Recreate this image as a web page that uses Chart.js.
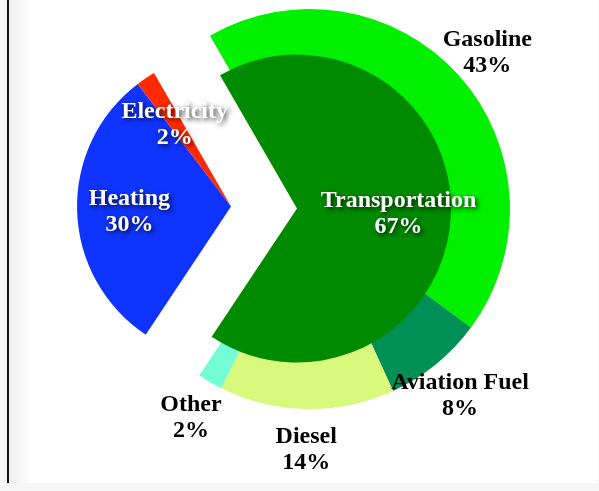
<!DOCTYPE html>
<html>
<head>
<meta charset="utf-8">
<script src="https://cdn.jsdelivr.net/npm/chart.js@4.4.1/dist/chart.umd.min.js"></script>
<style>
  html, body { margin: 0; padding: 0; }
  body { width: 599px; height: 491px; background: #f6f6f6; position: relative; overflow: hidden; }
  #frame { position: absolute; left: 7px; top: 0; width: 589px; height: 483px;
           border-left: 2px solid #111; background: linear-gradient(to right, #eeeeee, #ffffff 24px); }
  #energyChart { position: absolute; left: 0; top: 0; }
</style>
</head>
<body>
<div id="frame"></div>
<canvas id="energyChart" width="599" height="491"></canvas>
<script>
// inner ring: energy use by sector
const sectors = ['Transportation', 'Heating', 'Electricity'];
const sectorShares = [67, 30, 2];
const sectorColors = ['#008a00', '#1034ff', '#ff2a00'];

// outer ring: breakdown of transportation by fuel
const fuels = ['Gasoline', 'Aviation Fuel', 'Diesel', 'Other'];
const fuelShares = [43, 8, 14, 2];
const fuelColors = ['#00f000', '#008f55', '#d8f97c', '#74fcd6'];

// the rest of the outer ring stays empty
const restShare = sectorShares[1] + sectorShares[2];

const explode = 33;    // transportation pulled away from the rest
const ringShift = 46;  // fuel ring sits a little further out

const shiftSlices = {
  id: 'shiftSlices',
  afterUpdate(chart) {
    const outer = chart.getDatasetMeta(0).data;
    const inner = chart.getDatasetMeta(1).data;
    const t = inner[0];
    const mid = (t.startAngle + t.endAngle) / 2;
    const dx = Math.cos(mid), dy = Math.sin(mid);
    inner.forEach((arc, i) => {
      const d = i === 0 ? explode : -explode;
      arc.x += dx * d;
      arc.y += dy * d;
    });
    outer.forEach(arc => {
      arc.x += dx * ringShift;
      arc.y += dy * ringShift;
      // let the ring run in under the transportation slice, no gap
      arc.innerRadius -= (ringShift - explode) + 2;
    });
  }
};

function drawLabel(ctx, arc, r, lines, white) {
  const mid = (arc.startAngle + arc.endAngle) / 2;
  const x = arc.x + Math.cos(mid) * r;
  const y = arc.y + Math.sin(mid) * r + 2.5;
  const lh = 26;
  ctx.save();
  if (white) {
    ctx.fillStyle = '#ffffff';
    ctx.shadowColor = 'rgba(0,0,0,0.8)';
    ctx.shadowBlur = 5;
    ctx.shadowOffsetX = 2;
    ctx.shadowOffsetY = 2;
  } else {
    ctx.fillStyle = '#000000';
  }
  lines.forEach((txt, i) => {
    ctx.fillText(txt, x, y + (i - (lines.length - 1) / 2) * lh);
  });
  ctx.restore();
}

const sliceLabels = {
  id: 'sliceLabels',
  afterDatasetsDraw(chart) {
    const ctx = chart.ctx;
    ctx.save();
    ctx.font = 'bold 24px "Liberation Serif", "Times New Roman", serif';
    ctx.textAlign = 'center';
    ctx.textBaseline = 'middle';
    chart.getDatasetMeta(1).data.forEach((arc, i) => {
      drawLabel(ctx, arc, arc.outerRadius * 0.66, [sectors[i], sectorShares[i] + '%'], true);
    });
    chart.getDatasetMeta(0).data.forEach((arc, i) => {
      if (i < fuels.length) {
        drawLabel(ctx, arc, arc.outerRadius + 38, [fuels[i], fuelShares[i] + '%'], false);
      }
    });
    ctx.restore();
  }
};

const ctx = document.getElementById('energyChart').getContext('2d');
const energyChart = new Chart(ctx, {
  type: 'pie',
  data: {
    labels: fuels.concat(['']),
    datasets: [{
      label: 'Fuel',
      data: fuelShares.concat([restShare]),
      backgroundColor: fuelColors.concat(['rgba(0,0,0,0)']),
      borderWidth: 0,
      weight: 46,
      order: 1
    }, {
      label: 'Sector',
      data: sectorShares,
      backgroundColor: sectorColors,
      borderWidth: 0,
      weight: 154,
      order: 0
    }]
  },
  options: {
    responsive: false,
    animation: false,
    events: [],
    radius: 200,
    rotation: -30,
    layout: { padding: { left: 0, right: 71, top: 0, bottom: 76 } },
    plugins: {
      legend: { display: false },
      tooltip: { enabled: false }
    }
  },
  plugins: [shiftSlices, sliceLabels]
});
</script>
</body>
</html>
